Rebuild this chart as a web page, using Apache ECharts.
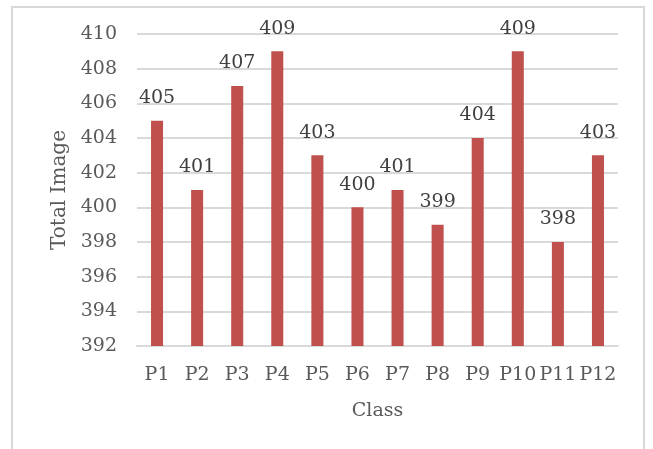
<!DOCTYPE html>
<html>
<head>
<meta charset="utf-8">
<script src="https://cdn.jsdelivr.net/npm/echarts@6/dist/echarts.min.js"></script>
<style>
  html, body { margin: 0; padding: 0; background: #fff; }
  #frame { position: absolute; left: 11px; top: 6px; width: 634px; height: 460px; border: 2px solid #d9d9d9; box-sizing: border-box; }
  #chart { width: 653px; height: 449px; position: absolute; left: 0; top: 0; }
</style>
</head>
<body>
<div id="frame"></div>
<div id="chart"></div>
<script>
// Image counts per class
const categories = ['P1', 'P2', 'P3', 'P4', 'P5', 'P6', 'P7', 'P8', 'P9', 'P10', 'P11', 'P12'];
const totals = [405, 401, 407, 409, 403, 400, 401, 399, 404, 409, 398, 403];
const yMin = 392;
const yMax = 410;
const yStep = 2;

const textColor = '#595959';
const fontFamily = '"DejaVu Serif", serif';

const chart = echarts.init(document.getElementById('chart'), null, { renderer: 'canvas' });
chart.setOption({
  animation: false,
  grid: { left: 137, right: 35, top: 34, bottom: 103 },
  xAxis: {
    type: 'category',
    data: categories,
    name: 'Class',
    nameLocation: 'middle',
    nameGap: 56,
    nameTextStyle: { color: textColor, fontFamily, fontSize: 19 },
    axisLine: { lineStyle: { color: '#d9d9d9', width: 2 } },
    axisTick: { show: false },
    axisLabel: { color: textColor, fontFamily, fontSize: 19, margin: 20, interval: 0 }
  },
  yAxis: {
    type: 'value',
    min: yMin,
    max: yMax,
    interval: yStep,
    name: 'Total Image',
    nameLocation: 'middle',
    nameGap: 66,
    nameTextStyle: { color: textColor, fontFamily, fontSize: 20 },
    axisLine: { show: false },
    axisTick: { show: false },
    splitLine: { lineStyle: { color: '#d9d9d9', width: 2 } },
    axisLabel: { color: textColor, fontFamily, fontSize: 19, margin: 20 }
  },
  series: [{
    type: 'bar',
    data: totals,
    barWidth: '30%',
    itemStyle: { color: '#C0504D' },
    label: {
      show: true,
      position: 'top',
      distance: 13,
      color: '#404040',
      fontFamily,
      fontSize: 19
    }
  }]
});
</script>
</body>
</html>
